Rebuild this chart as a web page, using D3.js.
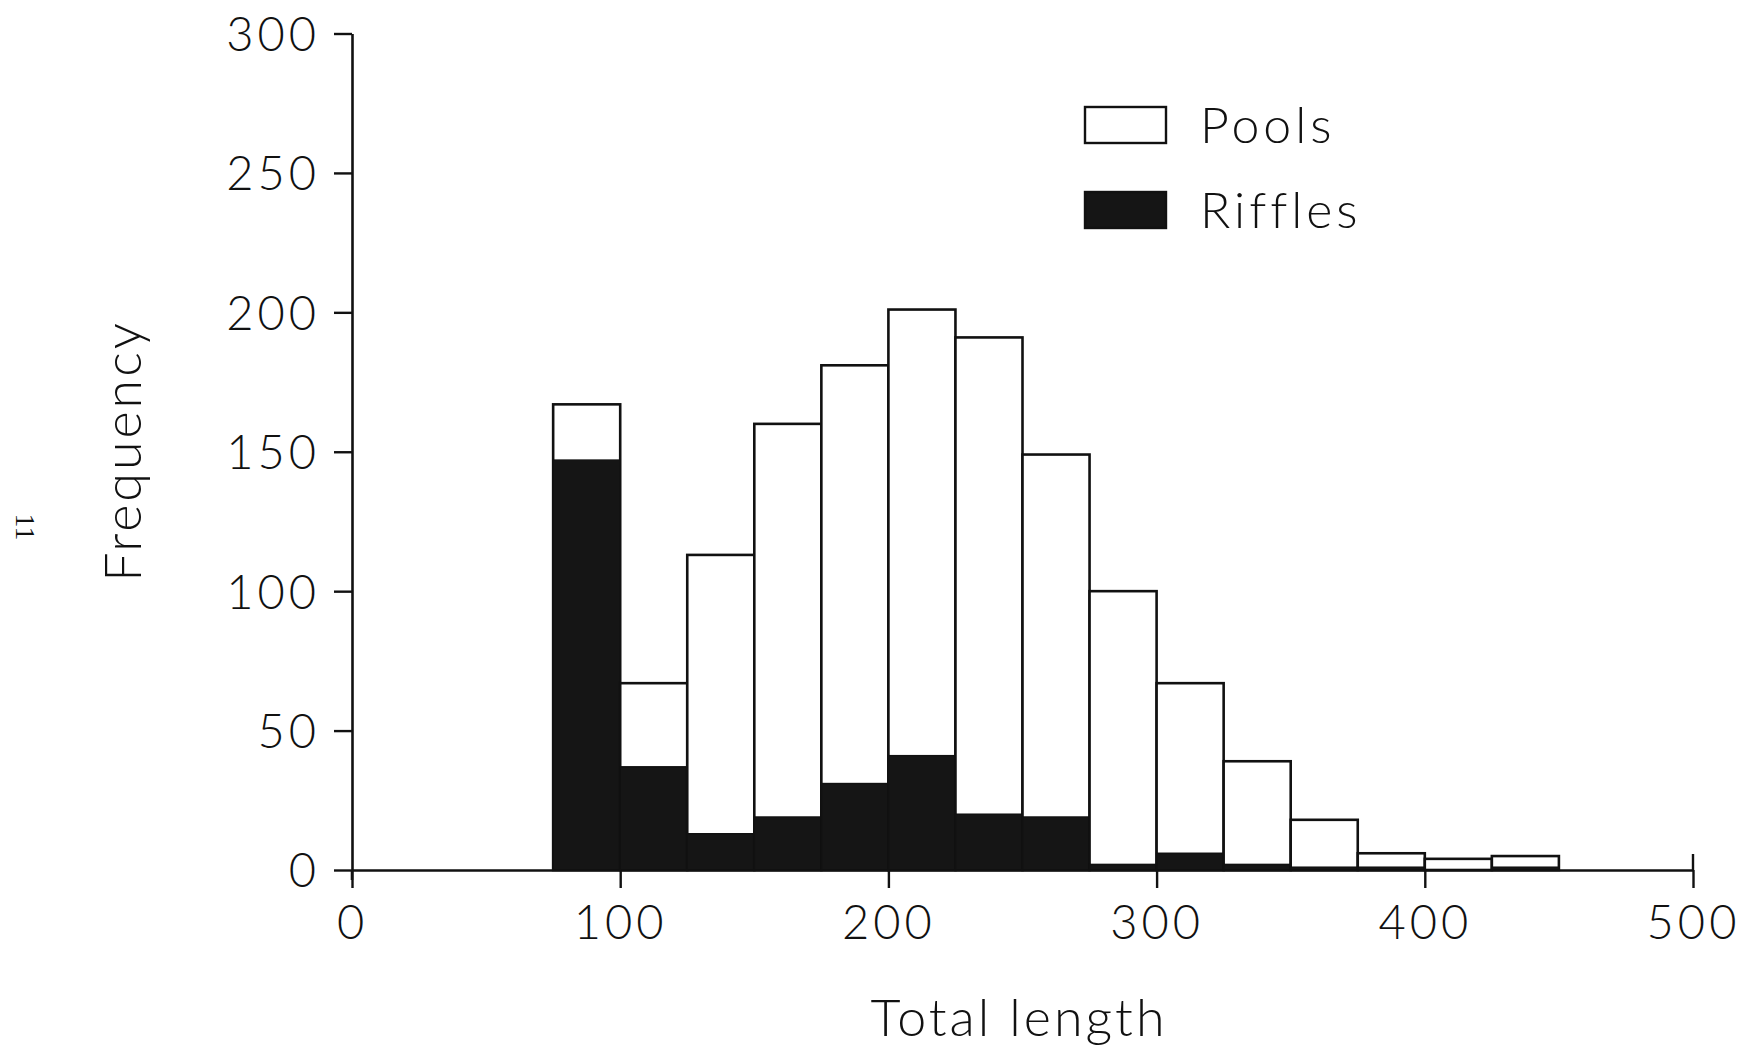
<!DOCTYPE html>
<html>
<head>
<meta charset="utf-8">
<script src="https://cdn.jsdelivr.net/npm/d3@7"></script>
<style>
  html, body { margin: 0; padding: 0; background: #fff; }
  svg { display: block; }
  text { font-family: Lato, "Open Sans", sans-serif; fill: #111; }
</style>
</head>
<body>
<svg id="chart" width="1752" height="1051"></svg>
<script>
// ---- data ----
const binStarts = [75, 100, 125, 150, 175, 200, 225, 250, 275, 300, 325, 350, 375, 400, 425];
const binWidth = 25;
const totalFreq = [167, 67, 113, 160, 181, 201, 191, 149, 100, 67, 39, 18, 6, 4, 5];   // Pools + Riffles (stacked top)
const rifflesFreq = [147, 37, 13, 19, 31, 41, 20, 19, 2, 6, 2, 1, 1, 0, 1];
const xTicks = [0, 100, 200, 300, 400, 500];
const yTicks = [0, 50, 100, 150, 200, 250, 300];
const seriesNames = ["Pools", "Riffles"];
const seriesFill = ["#ffffff", "#151515"];
const xTitle = "Total length";
const yTitle = "Frequency";

// ---- layout ----
const svg = d3.select("#chart");
const x = d3.scaleLinear().domain([0, 500]).range([352, 1693]);
const y = d3.scaleLinear().domain([0, 300]).range([870, 33.5]);
const ink = "#111";

// bars
const g = svg.append("g");
binStarts.forEach((s, i) => {
  g.append("rect")
    .attr("x", x(s)).attr("y", y(totalFreq[i]))
    .attr("width", x(s + binWidth) - x(s))
    .attr("height", y(0) - y(totalFreq[i]))
    .attr("fill", seriesFill[0]).attr("stroke", ink).attr("stroke-width", 2.6);
  if (rifflesFreq[i] > 0) {
    g.append("rect")
      .attr("x", x(s)).attr("y", y(rifflesFreq[i]))
      .attr("width", x(s + binWidth) - x(s))
      .attr("height", y(0) - y(rifflesFreq[i]))
      .attr("fill", seriesFill[1]).attr("stroke", ink).attr("stroke-width", 1.5);
  }
});

// axes
const yAxis = svg.append("g").attr("transform", `translate(${x(0)},0)`)
  .call(d3.axisLeft(y).tickValues(yTicks).tickSize(18).tickSizeOuter(0).tickPadding(14));
const xAxis = svg.append("g").attr("transform", `translate(0,${y(0)})`)
  .call(d3.axisBottom(x).tickValues(xTicks).tickSize(18).tickSizeOuter(0).tickPadding(18));

[yAxis, xAxis].forEach(a => {
  a.select(".domain").attr("stroke", ink).attr("stroke-width", 2.6);
  a.selectAll(".tick line").attr("stroke", ink).attr("stroke-width", 2.4);
  a.selectAll(".tick text")
    .style("font-family", "Lato, 'Open Sans', sans-serif")
    .style("font-size", "47px").style("font-weight", 300)
    .style("letter-spacing", "4px")
    .attr("fill", ink);
});
yAxis.selectAll(".tick text").attr("dy", "0.36em");
// y axis extends slightly below zero; end tick at 500 crosses the axis
svg.append("line").attr("x1", x(0)).attr("x2", x(0)).attr("y1", y(0)).attr("y2", y(0) + 10)
  .attr("stroke", ink).attr("stroke-width", 2.6);
svg.append("line").attr("x1", x(500)).attr("x2", x(500)).attr("y1", y(0) - 16).attr("y2", y(0))
  .attr("stroke", ink).attr("stroke-width", 2.4);

// titles
svg.append("text").attr("x", 1019).attr("y", 1036).attr("text-anchor", "middle")
  .style("font-size", "52px").style("font-weight", 300).style("letter-spacing", "3px")
  .text(xTitle);
svg.append("text").attr("transform", "translate(141,451) rotate(-90)").attr("text-anchor", "middle")
  .style("font-size", "52px").style("font-weight", 300).style("letter-spacing", "3px")
  .text(yTitle);
// page mark at far left
svg.append("text").attr("transform", "translate(16,527) rotate(90)").attr("text-anchor", "middle")
  .style("font-family", "'Liberation Serif', 'DejaVu Serif', serif").style("font-size", "28px")
  .text("11");

// legend
const legendY = [143, 228];
seriesNames.forEach((name, i) => {
  svg.append("rect").attr("x", 1085).attr("y", legendY[i] - 36).attr("width", 81).attr("height", 36)
    .attr("fill", seriesFill[i]).attr("stroke", ink).attr("stroke-width", 2.4);
  svg.append("text").attr("x", 1200).attr("y", legendY[i])
    .style("font-size", "50px").style("font-weight", 300).style("letter-spacing", "4px")
    .text(name);
});
</script>
</body>
</html>
